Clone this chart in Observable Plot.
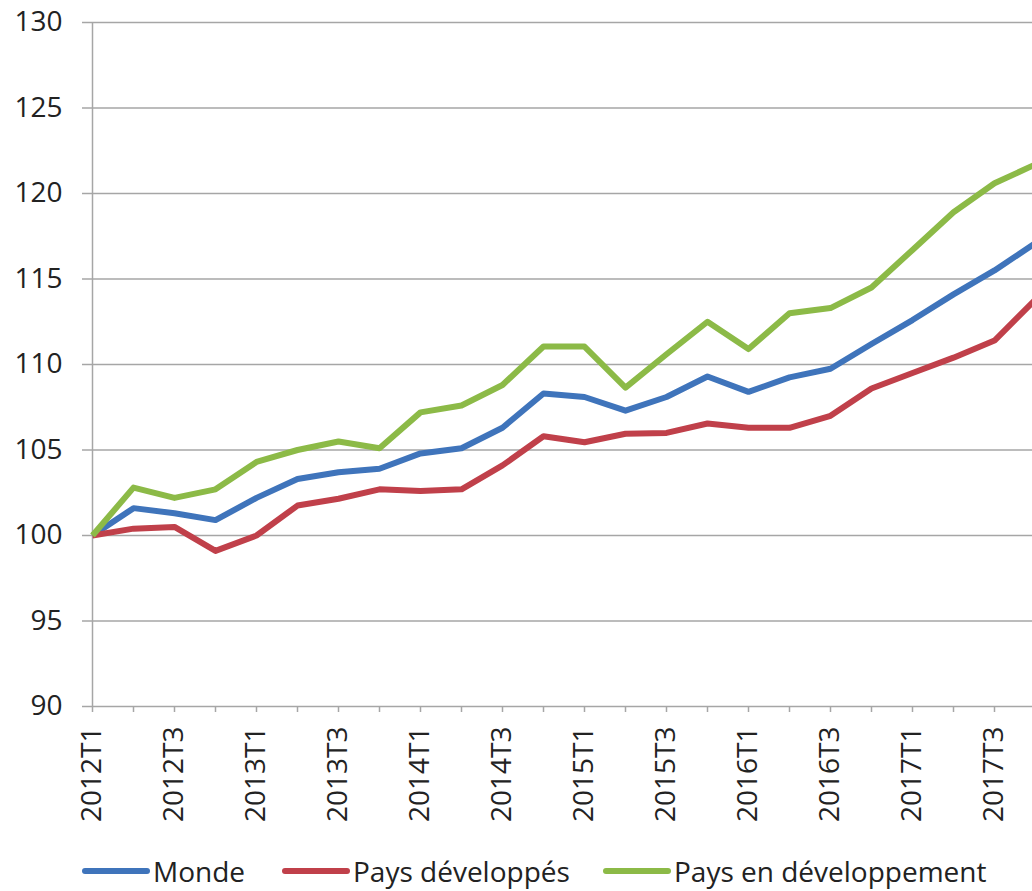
<!DOCTYPE html>
<html>
<head>
<meta charset="utf-8">
<script src="https://cdn.jsdelivr.net/npm/d3@7"></script>
<script src="https://cdn.jsdelivr.net/npm/@observablehq/plot@0.6"></script>
<style>
  html, body { margin: 0; padding: 0; background: #fff; overflow: hidden; }
  #wrap { width: 1032px; height: 891px; overflow: hidden; position: relative; font-family: "Open Sans", sans-serif; }
  #chart svg { max-width: none !important; }
  #legend { position: absolute; left: 0; top: 852px; width: 1032px; height: 38px; font-size: 28px; line-height: 38px; color: #222; }
  .item { display: flex; align-items: center; position: absolute; top: 0; height: 38px; white-space: nowrap; }
  .sw { display: inline-block; width: 68px; height: 6px; border-radius: 3px; margin-right: 3px; }
</style>
</head>
<body>
<div id="wrap"><div id="chart"></div><div id="legend"></div></div>
<script>
const quarters = ["2012T1","2012T2","2012T3","2012T4","2013T1","2013T2","2013T3","2013T4",
  "2014T1","2014T2","2014T3","2014T4","2015T1","2015T2","2015T3","2015T4",
  "2016T1","2016T2","2016T3","2016T4","2017T1","2017T2","2017T3","2017T4"];
const monde = [100, 101.6, 101.3, 100.9, 102.2, 103.3, 103.7, 103.9,
  104.8, 105.1, 106.3, 108.3, 108.1, 107.3, 108.1, 109.3,
  108.4, 109.25, 109.75, 111.2, 112.6, 114.1, 115.5, 117.1];
const developpes = [100, 100.4, 100.5, 99.1, 100.0, 101.75, 102.15, 102.7,
  102.6, 102.7, 104.1, 105.8, 105.45, 105.95, 106.0, 106.55,
  106.3, 106.3, 107.0, 108.6, 109.5, 110.4, 111.4, 113.8];
const enDeveloppement = [100, 102.8, 102.2, 102.7, 104.3, 105.0, 105.5, 105.1,
  107.2, 107.6, 108.8, 111.05, 111.05, 108.65, 110.6, 112.5,
  110.9, 113.0, 113.3, 114.5, 116.7, 118.9, 120.6, 121.7];
const seriesNames = ["Monde", "Pays développés", "Pays en développement"];
const seriesColors = ["#3f74bb", "#c0404a", "#8cba47"];
const yTicks = [90, 95, 100, 105, 110, 115, 120, 125, 130];

const seriesValues = [monde, developpes, enDeveloppement];
const data = [];
seriesNames.forEach((name, s) => {
  quarters.forEach((q, i) => data.push({series: name, quarter: q, value: seriesValues[s][i]}));
});

const H = 852;
const chart = Plot.plot({
  width: 1040,
  height: H,
  marginLeft: 90,
  marginRight: 4,
  marginTop: 22,
  marginBottom: H - 706,
  style: {fontFamily: "Open Sans, sans-serif", fontSize: "28px", color: "#222", background: "white", maxWidth: "none"},
  x: {type: "point", domain: quarters, padding: 0},
  y: {domain: [90, 130]},
  color: {domain: seriesNames, range: seriesColors},
  marks: [
    Plot.gridY(yTicks, {stroke: "#a6a6a6", strokeOpacity: 1, strokeWidth: 1.5}),
    Plot.axisY({ticks: yTicks, tickSize: 8, tickPadding: 20, stroke: "#a6a6a6", strokeWidth: 1.5, label: null, fill: "#222"}),
    Plot.ruleX([quarters[0]], {y1: 90, y2: 130, stroke: "#a6a6a6", strokeWidth: 1.5}),
    Plot.axisX({ticks: quarters, tickSize: 6, tickPadding: 14, tickRotate: -90, stroke: "#a6a6a6", strokeWidth: 1.5,
      tickFormat: (d) => (quarters.indexOf(d) % 2 === 0 ? d : ""), label: null, fill: "#222"}),
    Plot.line(data, {x: "quarter", y: "value", z: "series", stroke: "series", strokeWidth: 6, strokeLinejoin: "round", strokeLinecap: "butt"})
  ]
});
chart.style.maxWidth = "none";
document.getElementById("chart").appendChild(chart);

const legend = document.getElementById("legend");
const lefts = [82, 282, 603];
seriesNames.forEach((name, i) => {
  const it = document.createElement("div");
  it.className = "item";
  it.style.left = lefts[i] + "px";
  const sw = document.createElement("span");
  sw.className = "sw";
  sw.style.background = seriesColors[i];
  const tx = document.createElement("span");
  tx.textContent = name;
  it.appendChild(sw); it.appendChild(tx);
  legend.appendChild(it);
});
</script>
</body>
</html>
